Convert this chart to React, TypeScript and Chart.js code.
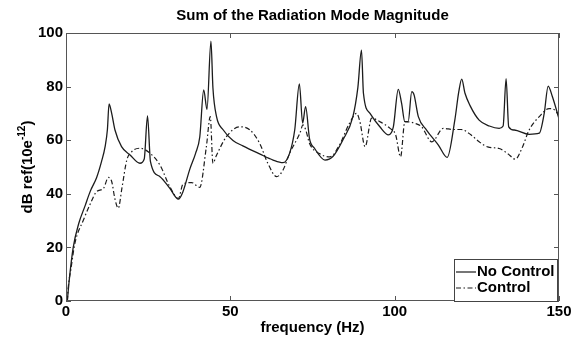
import React, { useEffect, useRef } from "react";
import { Chart, registerables } from "chart.js";

Chart.register(...registerables);

const titleText = "Sum of the Radiation Mode Magnitude";
const xTitle = "frequency (Hz)";
const yTitleMain = "dB ref(10e";
const yTitleSup = "-12";
const yTitleEnd = ")";
const seriesNames = ["No Control", "Control"];
const xTicks = [0, 50, 100, 150];
const yTicks = [0, 20, 40, 60, 80, 100];

const noControlFreq = [0.4, 1, 2.2, 3.9, 5.8, 7.4, 9.3, 10.8, 11.9, 12.6, 13.1, 13.9, 14.9, 16.9, 19.5, 22.5, 23.8, 24.8, 25.7, 28.6, 31.6, 34.2, 35.5, 37.7, 39.4, 40.7, 41.9, 42.9, 44.1, 44.7, 45.8, 47.8, 50.8, 53.8, 58.9, 63, 66, 68, 69.6, 71, 72, 72.9, 74.1, 75.6, 78.8, 81.2, 84.2, 87.3, 88.8, 89.9, 90.5, 92.5, 95.5, 98.1, 99.6, 101.1, 102.1, 103.1, 104.1, 105.2, 105.9, 107.2, 109.7, 113.3, 116, 118.3, 119.5, 120.4, 121.4, 122.9, 125.7, 128.8, 131.8, 133, 133.9, 134.7, 136.4, 140.9, 144, 145.5, 146.7, 148, 150];
const noControlDb = [0, 8, 20, 29, 35.5, 41, 46, 52, 57.6, 64, 73.5, 70, 63.8, 57.6, 54.5, 51.4, 53, 69.1, 52, 46.4, 42, 38, 40.5, 49.3, 55, 61.2, 78.8, 71.5, 97, 79.6, 68.8, 63.9, 59.9, 57.9, 54.9, 52.6, 51.6, 55, 63.9, 81, 66.4, 72.5, 60.5, 57, 52.6, 53.9, 60, 68.8, 79.6, 93.6, 77.5, 70, 65, 62, 65, 79, 73.8, 66.9, 66.9, 78.1, 76.9, 68.8, 63.8, 58.2, 53.6, 67.5, 78, 82.8, 77.5, 73, 67.5, 65.3, 64.4, 65.3, 83, 65, 63.8, 62.2, 62.6, 70, 80.2, 76.2, 68];

const controlFreq = [0.4, 0.7, 1.5, 2.7, 5.3, 7.3, 9.3, 11.4, 12.9, 13.9, 14.9, 15.9, 17, 18.5, 20, 22.5, 25.6, 28.6, 31.6, 34.2, 35.6, 38.2, 40.7, 42.7, 43.9, 44.7, 45.8, 48.8, 52.8, 55.9, 58.9, 61.4, 64.1, 66, 68, 71.2, 72.1, 72.9, 74.1, 77.1, 80.3, 83.2, 86.2, 88.4, 89.4, 91, 93, 95.5, 98.6, 100.3, 101.8, 103.1, 106.2, 108.2, 111.3, 114.8, 117.8, 120.2, 123.2, 125.7, 128.3, 131.8, 134.4, 136.7, 138.9, 140.9, 144, 147, 148.8, 150];
const controlDb = [0, 5.3, 12, 21.5, 30.2, 36, 40.8, 42, 46.1, 44.6, 38, 34.6, 42, 52.6, 55.7, 57, 55.1, 50.7, 42.6, 38.3, 43.6, 44.2, 42.4, 57.5, 68.8, 51.4, 54.4, 61.3, 65, 63.9, 58.9, 51.4, 46.4, 48.8, 55, 62.7, 65.7, 64, 58.8, 55, 53.8, 58.2, 66.2, 70, 67, 57.6, 68.2, 66.9, 64.4, 62, 53.8, 66.9, 66.3, 65, 59.4, 64.4, 64, 64, 62, 59.4, 57.5, 56.9, 55, 52.9, 57.5, 63.8, 68.8, 71.8, 71.2, 69];

const FONT = "'Liberation Sans', Arial, Helvetica, sans-serif";
const LINE_COLOR = "#1c1c1c";
const DASH = [5, 2.5, 1.5, 2.5];

const decorPlugin = {
  id: "decor",
  afterDraw(chart: any) {
    const { ctx, chartArea } = chart;
    const { left, right, top, bottom } = chartArea;
    const xs = chart.scales.x;
    const ys = chart.scales.y;
    ctx.save();
    ctx.strokeStyle = "#555";
    ctx.lineWidth = 1;
    ctx.strokeRect(left + 0.5, top + 0.5, right - left - 1, bottom - top - 1);
    ctx.beginPath();
    const tl = 5;
    xTicks.forEach((v) => {
      const px = Math.round(xs.getPixelForValue(v)) + 0.5;
      ctx.moveTo(px, bottom);
      ctx.lineTo(px, bottom - tl);
      ctx.moveTo(px, top);
      ctx.lineTo(px, top + tl);
    });
    yTicks.forEach((v) => {
      const py = Math.round(ys.getPixelForValue(v)) + 0.5;
      ctx.moveTo(left, py);
      ctx.lineTo(left + tl, py);
      ctx.moveTo(right, py);
      ctx.lineTo(right - tl, py);
    });
    ctx.stroke();

    ctx.fillStyle = "#000";
    ctx.font = `bold 15px ${FONT}`;
    ctx.textAlign = "center";
    ctx.textBaseline = "middle";
    ctx.fillText(titleText, (left + right) / 2, 16);
    ctx.fillText(xTitle, (left + right) / 2, 328);

    ctx.save();
    ctx.translate(32, (top + bottom) / 2);
    ctx.rotate(-Math.PI / 2);
    ctx.textAlign = "left";
    ctx.textBaseline = "alphabetic";
    ctx.font = `bold 15px ${FONT}`;
    const w1 = ctx.measureText(yTitleMain).width;
    const w3 = ctx.measureText(yTitleEnd).width;
    ctx.font = `bold 10px ${FONT}`;
    const w2 = ctx.measureText(yTitleSup).width;
    const x0 = -(w1 + w2 + w3) / 2;
    ctx.font = `bold 15px ${FONT}`;
    ctx.fillText(yTitleMain, x0, 0);
    ctx.font = `bold 10px ${FONT}`;
    ctx.fillText(yTitleSup, x0 + w1, -7);
    ctx.font = `bold 15px ${FONT}`;
    ctx.fillText(yTitleEnd, x0 + w1 + w2, 0);
    ctx.restore();

    const lx = 454, ly = 259, lw = 103, lh = 42;
    ctx.fillStyle = "#fff";
    ctx.fillRect(lx, ly, lw, lh);
    ctx.strokeStyle = "#444";
    ctx.lineWidth = 1;
    ctx.strokeRect(lx + 0.5, ly + 0.5, lw, lh);
    const rows = [ly + 13, ly + 29];
    ctx.lineWidth = 1.2;
    ctx.strokeStyle = LINE_COLOR;
    ctx.beginPath();
    ctx.setLineDash([]);
    ctx.moveTo(lx + 2, rows[0]);
    ctx.lineTo(lx + 22, rows[0]);
    ctx.stroke();
    ctx.beginPath();
    ctx.setLineDash(DASH);
    ctx.moveTo(lx + 2, rows[1]);
    ctx.lineTo(lx + 22, rows[1]);
    ctx.stroke();
    ctx.setLineDash([]);
    ctx.fillStyle = "#000";
    ctx.font = `bold 15px ${FONT}`;
    ctx.textAlign = "left";
    ctx.textBaseline = "middle";
    ctx.fillText(seriesNames[0], lx + 23, rows[0]);
    ctx.fillText(seriesNames[1], lx + 23, rows[1]);
    ctx.restore();
  },
};

export default function App() {
  const ref = useRef<HTMLCanvasElement>(null);
  useEffect(() => {
    document.body.style.margin = "0";
    if (!ref.current) return;
    const chart = new Chart(ref.current, {
      type: "line",
      data: {
        datasets: [
          {
            label: seriesNames[0],
            data: noControlFreq.map((f, i) => ({ x: f, y: noControlDb[i] })),
            borderColor: LINE_COLOR,
            borderWidth: 1.3,
            pointRadius: 0,
            cubicInterpolationMode: "monotone",
            fill: false,
          },
          {
            label: seriesNames[1],
            data: controlFreq.map((f, i) => ({ x: f, y: controlDb[i] })),
            borderColor: LINE_COLOR,
            borderWidth: 1.2,
            borderDash: DASH,
            pointRadius: 0,
            cubicInterpolationMode: "monotone",
            fill: false,
          },
        ],
      },
      options: {
        responsive: false,
        animation: false,
        devicePixelRatio: 1,
        layout: { padding: { top: 33, right: 21, left: 0, bottom: 0 } },
        plugins: { legend: { display: false }, title: { display: false }, tooltip: { enabled: false } },
        scales: {
          x: {
            type: "linear",
            min: 0,
            max: 150,
            afterFit: (s: any) => { s.height = 38; },
            afterBuildTicks: (s: any) => { s.ticks = xTicks.map((v) => ({ value: v })); },
            ticks: { color: "#000", font: { family: FONT, size: 15, weight: "bold" }, padding: 2, maxRotation: 0 },
            grid: { display: false, drawTicks: false },
            border: { display: false },
          },
          y: {
            type: "linear",
            min: 0,
            max: 100,
            afterFit: (s: any) => { s.width = 66; },
            afterBuildTicks: (s: any) => { s.ticks = yTicks.map((v) => ({ value: v })); },
            ticks: { color: "#000", font: { family: FONT, size: 15, weight: "bold" }, padding: 3 },
            grid: { display: false, drawTicks: false },
            border: { display: false },
          },
        },
      },
      plugins: [decorPlugin],
    });
    return () => chart.destroy();
  }, []);
  return (
    <div style={{ position: "absolute", left: 0, top: 0, width: 580, height: 339, background: "#fff" }}>
      <canvas ref={ref} width={580} height={339} />
    </div>
  );
}
